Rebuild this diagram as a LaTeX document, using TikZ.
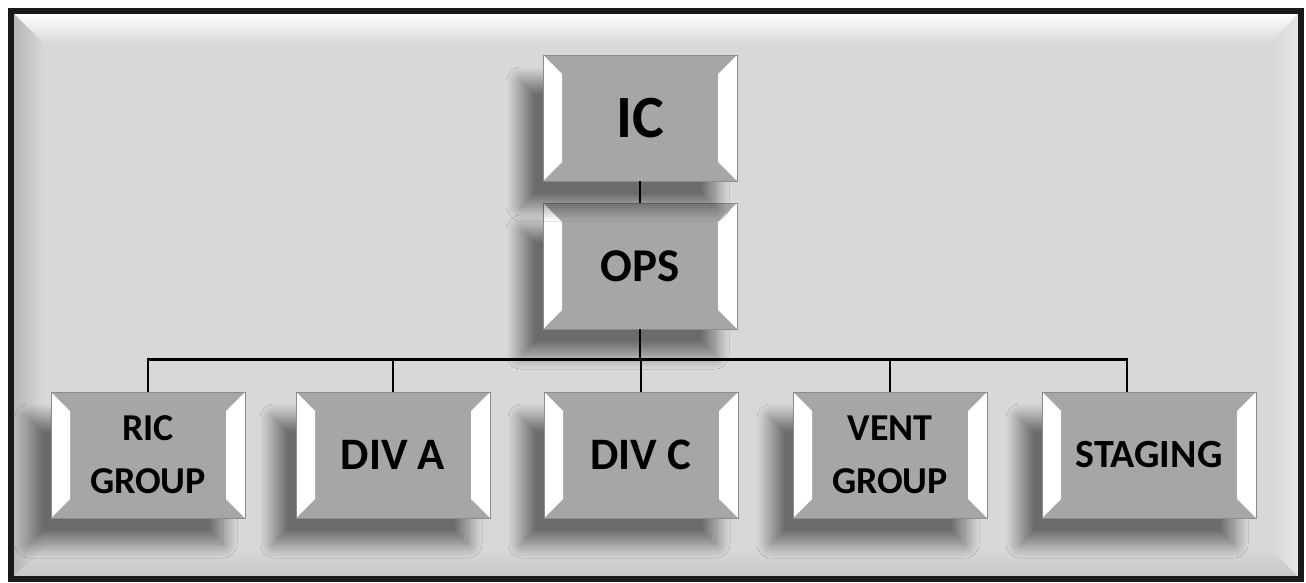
\documentclass[tikz,border=0pt]{standalone}
\usepackage{fontspec}
\setmainfont{Carlito}
\usetikzlibrary{shadows.blur}
\definecolor{boxgray}{HTML}{A6A6A6}
\definecolor{framegray}{HTML}{D8D8D8}

\begin{document}
\begin{tikzpicture}[
  x=1pt, y=-1pt,
  bevelbox/.style={rectangle, draw=black!45, line width=0.8pt, fill=boxgray,
    minimum width=194pt, minimum height=126pt, inner sep=0pt, align=center,
    blur shadow={shadow xshift=-22pt, shadow yshift=-26pt,
      shadow blur radius=14pt, shadow blur steps=24,
      shadow blur extra rounding=0pt, shadow opacity=50},
    path picture={
      \fill[white] (path picture bounding box.north west) -- ++(19pt,-19pt)
        -- ([shift={(19pt,19pt)}]path picture bounding box.south west)
        -- (path picture bounding box.south west) -- cycle;
      \fill[white] (path picture bounding box.north east) -- ++(-19pt,-19pt)
        -- ([shift={(-19pt,19pt)}]path picture bounding box.south east)
        -- (path picture bounding box.south east) -- cycle;
    }},
  txtxl/.style={font=\bfseries\fontsize{60}{66}\selectfont},
  txtl/.style={font=\bfseries\fontsize{47}{52}\selectfont},
  txtm/.style={font=\bfseries\fontsize{45}{50}\selectfont},
  txts/.style={font=\bfseries\fontsize{38}{53}\selectfont},
  conn/.style={line width=2.5pt},
  ]
  \useasboundingbox (0,0) rectangle (1306,583);
  % frame with bevel
  \fill[framegray] (11,11) rectangle (1301,579);
  \shade[top color=white, bottom color=framegray]
    (14,14) -- (1298,14) -- (1270,44) -- (44,44) -- cycle;
  \shade[left color=black!28, right color=framegray]
    (14,14) -- (44,44) -- (44,549) -- (14,576) -- cycle;
  \shade[top color=framegray, bottom color=black!22]
    (14,576) -- (44,549) -- (1270,549) -- (1298,576) -- cycle;
  \shade[left color=framegray, right color=black!10]
    (1298,14) -- (1270,44) -- (1270,549) -- (1298,576) -- cycle;
  \draw[line width=6pt, black!90] (11,11) rectangle (1301,579);

  % boxes
  \node[bevelbox, txtl] (ops) at (640,266) {OPS};
  \node[bevelbox, txtxl] (ic) at (640,118) {IC};
  \node[bevelbox, txts] (ric) at (148,455) {RIC\\GROUP};
  \node[bevelbox, txtm] (diva) at (393,455) {DIV A};
  \node[bevelbox, txtm] (divc) at (641,455) {DIV C};
  \node[bevelbox, txts] (vent) at (890,455) {VENT\\GROUP};
  \node[bevelbox, font=\bfseries\fontsize{40}{48}\selectfont,
    minimum width=214pt] (staging) at (1149,455) {STAGING};

  % connectors
  \draw[line width=2pt] (ic) -- (ops);
  \foreach \n in {ric,diva,divc,vent}
    \draw[conn] (ops.south) -- ++(0pt,-30pt) -| (\n.north);
  \draw[conn] (ops.south) -- ++(0pt,-30pt) -| ([xshift=-22pt]staging.north);
\end{tikzpicture}
\end{document}
